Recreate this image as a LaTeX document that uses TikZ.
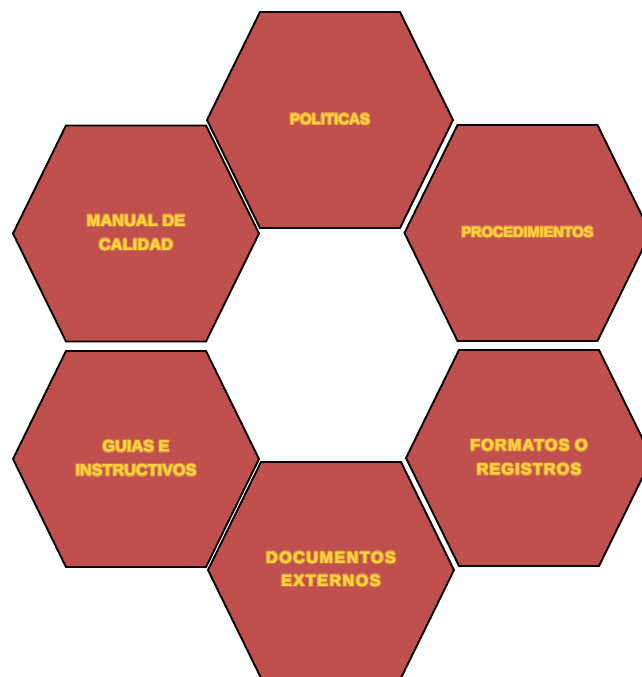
\documentclass[tikz,border=0pt]{standalone}
\usepackage{fontspec}
\setmainfont{Liberation Sans}
\usepackage{contour}
\contournumber{16}

\definecolor{hexfill}{HTML}{C0504D}
\definecolor{labelgold}{HTML}{FFD83E}
\definecolor{glowin}{HTML}{F0A443}
\definecolor{glowout}{HTML}{D3704A}

% gold lettering with a soft two-step orange halo
\newcommand\glowword[1]{\rlap{\contourlength{1.4pt}\contour{glowout}{#1}}\contourlength{0.6pt}\contour{glowin}{#1}}

% flat-topped hexagon centred on (#1,#2)
\newcommand\hexagon[2]{\draw[hexcell,shift={(#1,#2)}]
  (-123,0) -- (-70,-108) -- (70,-108) -- (123,0) -- (70,108) -- (-70,108) -- cycle;}

\tikzset{
  hexcell/.style={draw=black, line width=1.9pt, fill=hexfill, line join=miter},
  hexlabel/.style={text=labelgold, align=center, inner sep=0pt,
    font=\bfseries\fontsize{16}{23}\selectfont},
}

\begin{document}
\begin{tikzpicture}[x=1pt,y=-1pt]
\useasboundingbox (0,0) rectangle (642,677);
\clip (0,0) rectangle (642,677);

\hexagon{330}{120}
\hexagon{136}{233.5}
\hexagon{527.5}{233}
\hexagon{136}{459}
\hexagon{529}{458}
\hexagon{331}{570}

\node[hexlabel, font=\bfseries\fontsize{15}{22}\selectfont] (pol) at (330,120) {\glowword{POLITICAS}};
\node[hexlabel, font=\bfseries\fontsize{16}{24}\selectfont\addfontfeature{LetterSpace=2}] (man) at (136,233.5)
  {\glowword{MANUAL DE}\\\glowword{CALIDAD}};
\node[hexlabel, font=\bfseries\fontsize{14.5}{22}\selectfont] (pro) at (527.5,233) {\glowword{PROCEDIMIENTOS}};
\node[hexlabel, font=\bfseries\fontsize{16}{24}\selectfont\addfontfeature{LetterSpace=1}] (gui) at (136,459)
  {\glowword{GUIAS E}\\\glowword{INSTRUCTIVOS}};
\node[hexlabel, font=\bfseries\fontsize{16}{24}\selectfont\addfontfeature{LetterSpace=8}] (for) at (529,458)
  {\glowword{FORMATOS O}\\\glowword{REGISTROS}};
\node[hexlabel, font=\bfseries\fontsize{16}{23}\selectfont\addfontfeature{LetterSpace=10}] (doc) at (331,570)
  {\glowword{DOCUMENTOS}\\\glowword{EXTERNOS}};
\end{tikzpicture}
\end{document}
